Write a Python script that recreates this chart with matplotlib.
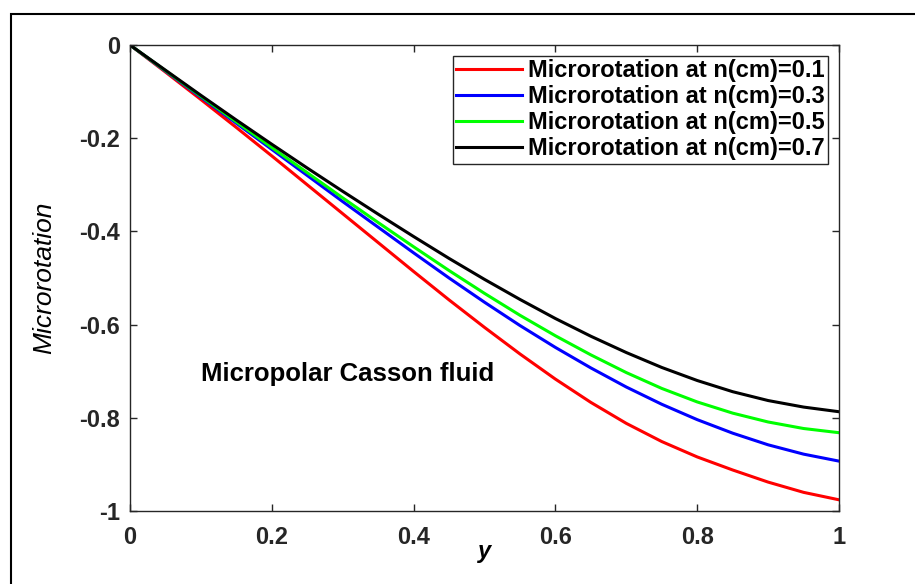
import matplotlib
matplotlib.use('Agg')
import matplotlib.pyplot as plt
from matplotlib.patches import Rectangle

plt.rcParams['font.family'] = ['Liberation Sans', 'DejaVu Sans']

y = [0.0, 0.05, 0.1, 0.15, 0.2, 0.25, 0.3, 0.35, 0.4, 0.45, 0.5,
     0.55, 0.6, 0.65, 0.7, 0.75, 0.8, 0.85, 0.9, 0.95, 1.0]

micro_01 = [0, -0.058, -0.117, -0.177, -0.238, -0.300, -0.362, -0.424, -0.486, -0.547, -0.606,
            -0.663, -0.717, -0.767, -0.812, -0.851, -0.884, -0.912, -0.938, -0.960, -0.976]
micro_03 = [0, -0.056, -0.112, -0.168, -0.224, -0.280, -0.336, -0.391, -0.446, -0.500, -0.552,
            -0.602, -0.649, -0.693, -0.734, -0.771, -0.804, -0.833, -0.858, -0.878, -0.893]
micro_05 = [0, -0.055, -0.110, -0.165, -0.220, -0.274, -0.328, -0.381, -0.433, -0.484, -0.533,
            -0.580, -0.624, -0.665, -0.703, -0.737, -0.766, -0.790, -0.809, -0.823, -0.832]
micro_07 = [0, -0.054, -0.108, -0.161, -0.213, -0.264, -0.314, -0.363, -0.411, -0.458, -0.503,
            -0.546, -0.587, -0.625, -0.660, -0.692, -0.720, -0.744, -0.763, -0.777, -0.787]

labels = ['Microrotation at n(cm)=0.1', 'Microrotation at n(cm)=0.3',
          'Microrotation at n(cm)=0.5', 'Microrotation at n(cm)=0.7']
colors = ['#ff0000', '#0000ff', '#00ff00', '#000000']

x_ticks = [0, 0.2, 0.4, 0.6, 0.8, 1]
x_ticklabels = ['0', '0.2', '0.4', '0.6', '0.8', '1']
y_ticks = [0, -0.2, -0.4, -0.6, -0.8, -1]
y_ticklabels = ['0', '-0.2', '-0.4', '-0.6', '-0.8', '-1']

fig = plt.figure(figsize=(9.15, 5.84), dpi=100)
ax = fig.add_axes([0.142, 0.125, 0.775, 0.798])

for vals, lab, col in zip([micro_01, micro_03, micro_05, micro_07], labels, colors):
    ax.plot(y, vals, color=col, lw=2.2, label=lab)

ax.set_xlim(0, 1)
ax.set_ylim(-1, 0)
ax.set_xticks(x_ticks)
ax.set_xticklabels(x_ticklabels)
ax.set_yticks(y_ticks)
ax.set_yticklabels(y_ticklabels)
ax.tick_params(direction='in', length=5, width=1, top=True, right=True,
               colors='#262626', labelsize=17)
ax.tick_params(axis='x', pad=11)
ax.tick_params(axis='y', pad=7)
for lbl in ax.get_xticklabels() + ax.get_yticklabels():
    lbl.set_fontweight('bold')
for sp in ax.spines.values():
    sp.set_color('#262626')
    sp.set_linewidth(1)

ax.set_xlabel('y', fontsize=17, fontweight='bold', style='italic', labelpad=-7)
ax.set_ylabel('Microrotation', fontsize=19, style='italic', labelpad=17)

ax.text(0.1, -0.706, 'Micropolar Casson fluid', fontsize=18.5, fontweight='bold',
        va='center', ha='left')

leg = ax.legend(loc='upper right', prop={'size': 17, 'weight': 'bold'},
                fancybox=False, framealpha=1, edgecolor='#262626',
                borderpad=0.15, labelspacing=0.13, handlelength=2.8,
                handletextpad=0.25, borderaxespad=0.45)
leg.get_frame().set_linewidth(1)

# outer frame around the figure
fig.patches.append(Rectangle((11 / 915, -0.05), 1.0, 1 - 14 / 584 + 0.05,
                             transform=fig.transFigure, fill=False,
                             edgecolor='black', linewidth=1.5, clip_on=False))

fig.savefig('out.png', dpi=100)
